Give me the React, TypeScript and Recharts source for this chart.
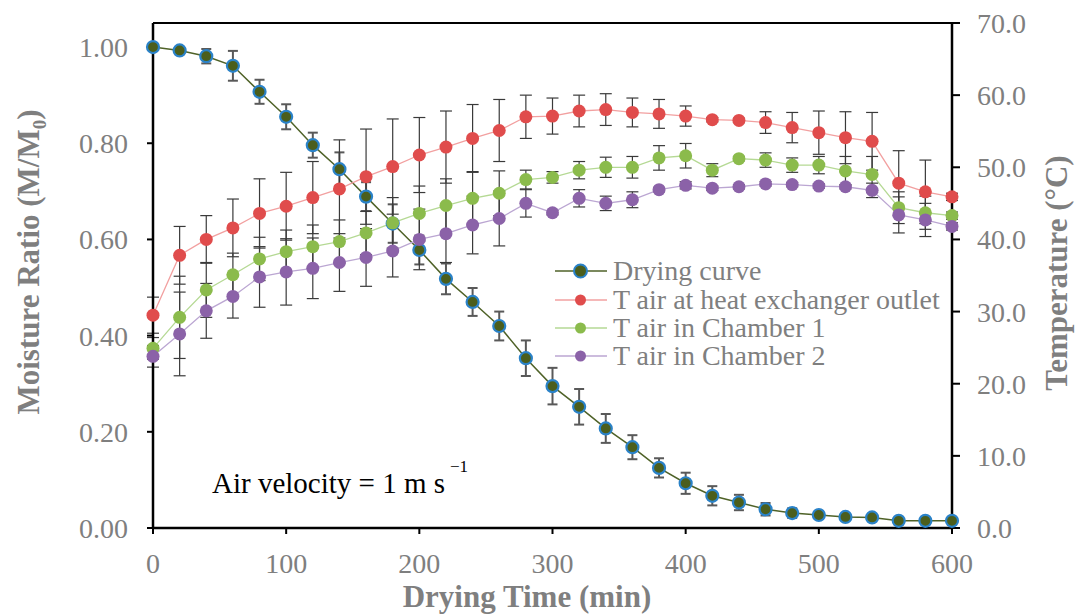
import { LineChart, Line, XAxis, YAxis, ErrorBar, ReferenceLine, Label } from 'recharts';

// drying time (min)
const times = [0, 20, 40, 60, 80, 100, 120, 140, 160, 180, 200, 220, 240, 260, 280, 300, 320, 340, 360, 380, 400, 420, 440, 460, 480, 500, 520, 540, 560, 580, 600];

// moisture ratio M/M0 and its std dev
const moistureRatio = [1.0, 0.993, 0.981, 0.961, 0.907, 0.855, 0.796, 0.746, 0.689, 0.633, 0.578, 0.518, 0.47, 0.42, 0.353, 0.295, 0.252, 0.207, 0.168, 0.125, 0.093, 0.067, 0.053, 0.039, 0.031, 0.027, 0.023, 0.022, 0.015, 0.015, 0.015];
const moistureErr = [0.003, 0.005, 0.015, 0.031, 0.025, 0.026, 0.026, 0.035, 0.03, 0.04, 0.03, 0.032, 0.029, 0.03, 0.037, 0.038, 0.037, 0.03, 0.025, 0.02, 0.022, 0.02, 0.016, 0.013, 0.01, 0.006, 0.005, 0.005, 0.004, 0.004, 0.004];

// temperatures (°C)
const tHeatExchanger = [29.5, 37.8, 40.0, 41.6, 43.6, 44.6, 45.8, 47.0, 48.7, 50.1, 51.7, 52.8, 54.0, 55.1, 57.0, 57.1, 57.8, 58.0, 57.6, 57.4, 57.1, 56.6, 56.5, 56.2, 55.5, 54.8, 54.1, 53.6, 47.8, 46.6, 45.9];
const tHeatExchangerErr = [2.5, 4, 3.3, 4, 4.8, 4.7, 5, 6.8, 6.6, 6.6, 5.2, 5, 4.7, 4.3, 3, 2.5, 2.2, 2.2, 2, 2, 1.4, 0.3, 0.3, 1.5, 2.1, 3, 3.6, 4, 4.5, 4.4, 0.5];
const tChamber1 = [24.9, 29.2, 33.0, 35.1, 37.3, 38.3, 39.0, 39.7, 40.9, 42.3, 43.6, 44.7, 45.7, 46.4, 48.3, 48.6, 49.6, 50.0, 50.0, 51.3, 51.6, 49.6, 51.2, 51.0, 50.3, 50.3, 49.5, 49.0, 44.4, 43.7, 43.3];
const tChamber1Err = [1.5, 5.7, 3.8, 3, 3, 3, 3, 3, 3, 3.5, 3.8, 3.7, 3.7, 3.1, 1.3, 0.8, 1.2, 1.4, 1.5, 1.7, 1.7, 0.9, 0.3, 1, 1, 1.2, 2, 2.5, 2.2, 2.3, 0.5];
const tChamber2 = [23.8, 26.9, 30.1, 32.1, 34.8, 35.5, 36.0, 36.8, 37.5, 38.4, 40.0, 40.8, 42.0, 42.9, 45.0, 43.7, 45.7, 45.0, 45.5, 46.9, 47.5, 47.1, 47.3, 47.7, 47.6, 47.4, 47.3, 46.8, 43.4, 42.7, 41.8];
const tChamber2Err = [1.5, 5.8, 3.8, 3, 4.2, 4.6, 4.2, 4, 4, 3.6, 4.2, 4, 4, 3.8, 1.9, 0.3, 1.2, 1, 1.1, 0.3, 0.5, 0.3, 0.3, 0.3, 0.3, 0.3, 0.3, 1, 2.5, 2.3, 0.5];

const xTicks = [0, 100, 200, 300, 400, 500, 600];
const mrTicks = [0, 0.2, 0.4, 0.6, 0.8, 1.0];
const tempTicks = [0, 10, 20, 30, 40, 50, 60, 70];

const data = times.map((t, i) => ({
  t,
  mr: moistureRatio[i],
  mrErr: moistureErr[i],
  hx: tHeatExchanger[i],
  hxErr: tHeatExchangerErr[i],
  c1: tChamber1[i],
  c1Err: tChamber1Err[i],
  c2: tChamber2[i],
  c2Err: tChamber2Err[i],
}));

const FONT = '"Liberation Serif", "Times New Roman", serif';
const GRAY = '#7f7f7f';
const tickStyle = { fill: GRAY, fontSize: 28, fontFamily: FONT };

const legendItems = [
  { name: 'Drying curve', line: '#4f6228', fill: '#4b5e1c', stroke: '#2a82c8', r: 6.5 },
  { name: 'T air at heat exchanger outlet', line: '#f2a0a0', fill: '#e04c4c', stroke: 'none', r: 5.5 },
  { name: 'T air in Chamber 1', line: '#b5d994', fill: '#8bbb4c', stroke: 'none', r: 5.5 },
  { name: 'T air in Chamber 2', line: '#bba6d2', fill: '#8b62a8', stroke: 'none', r: 5.5 },
];

export default function App() {
  return (
    <div style={{ position: 'relative', width: 1076, height: 615, background: '#fff' }}>
      <style>{'body{margin:0}'}</style>
      <LineChart width={1076} height={615} data={data} margin={{ top: 23, right: 0, left: 0, bottom: 0 }}>
        <XAxis
          type="number"
          dataKey="t"
          domain={[0, 600]}
          ticks={xTicks}
          height={87}
          tick={tickStyle}
          tickSize={6}
          tickMargin={19}
          axisLine={{ stroke: '#000', strokeWidth: 2.5 }}
          tickLine={{ stroke: '#000', strokeWidth: 2 }}
          label={
            <Label
              content={() => (
                <text x={527} y={607} textAnchor="middle" fill={GRAY} fontSize={31} fontWeight="bold" fontFamily={FONT}>
                  Drying Time (min)
                </text>
              )}
            />
          }
        />
        <YAxis
          yAxisId="mr"
          domain={[0, 1.05]}
          ticks={mrTicks}
          width={153}
          tickFormatter={(v: number) => v.toFixed(2)}
          tick={tickStyle}
          tickSize={6}
          tickMargin={19}
          axisLine={{ stroke: '#000', strokeWidth: 2.5 }}
          tickLine={{ stroke: '#000', strokeWidth: 2 }}
          label={
            <Label
              content={() => (
                <text transform="rotate(-90)" x={-262} y={39} textAnchor="middle" fill={GRAY} fontSize={31} fontWeight="bold" fontFamily={FONT}>
                  Moisture Ratio (M/M
                  <tspan fontSize={19} dy={7}>0</tspan>
                  <tspan dy={-7}>)</tspan>
                </text>
              )}
            />
          }
        />
        <YAxis
          yAxisId="temp"
          orientation="right"
          domain={[0, 70]}
          ticks={tempTicks}
          width={124}
          tickFormatter={(v: number) => v.toFixed(1)}
          tick={tickStyle}
          tickSize={8}
          tickMargin={17}
          axisLine={{ stroke: '#000', strokeWidth: 2.5 }}
          tickLine={{ stroke: '#000', strokeWidth: 2 }}
          label={
            <Label
              content={() => (
                <text transform="rotate(-90)" x={-273} y={1067} textAnchor="middle" fill={GRAY} fontSize={31} fontWeight="bold" fontFamily={FONT}>
                  Temperature (°C)
                </text>
              )}
            />
          }
        />
        <ReferenceLine yAxisId="mr" y={1.05} stroke="#000" strokeWidth={2} />

        <Line
          yAxisId="mr"
          type="linear"
          dataKey="mr"
          stroke="#4f6228"
          strokeWidth={1.5}
          dot={{ r: 6, fill: '#4b5e1c', stroke: '#2a82c8', strokeWidth: 2.2 }}
          isAnimationActive={false}
        >
          <ErrorBar dataKey="mrErr" direction="y" width={5} stroke="#595959" strokeWidth={2} />
        </Line>
        <Line
          yAxisId="temp"
          type="linear"
          dataKey="hx"
          stroke="#f2a0a0"
          strokeWidth={1.3}
          dot={{ r: 6.5, fill: '#e04c4c', stroke: 'none' }}
          isAnimationActive={false}
        >
          <ErrorBar dataKey="hxErr" direction="y" width={6} stroke="#3a3a3a" strokeWidth={1.2} />
        </Line>
        <Line
          yAxisId="temp"
          type="linear"
          dataKey="c1"
          stroke="#b5d994"
          strokeWidth={1.3}
          dot={{ r: 6.5, fill: '#8bbb4c', stroke: 'none' }}
          isAnimationActive={false}
        >
          <ErrorBar dataKey="c1Err" direction="y" width={6} stroke="#3a3a3a" strokeWidth={1.2} />
        </Line>
        <Line
          yAxisId="temp"
          type="linear"
          dataKey="c2"
          stroke="#bba6d2"
          strokeWidth={1.3}
          dot={{ r: 6.5, fill: '#8b62a8', stroke: 'none' }}
          isAnimationActive={false}
        >
          <ErrorBar dataKey="c2Err" direction="y" width={6} stroke="#3a3a3a" strokeWidth={1.2} />
        </Line>
      </LineChart>

      <div style={{ position: 'absolute', left: 555, top: 257, fontFamily: FONT, fontSize: 28, color: GRAY }}>
        {legendItems.map((it) => (
          <div key={it.name} style={{ display: 'flex', alignItems: 'center', height: 28.4, whiteSpace: 'nowrap' }}>
            <svg width={58} height={20} style={{ flex: 'none' }}>
              <line x1={0} y1={10} x2={52} y2={10} stroke={it.line} strokeWidth={1.5} />
              <circle cx={25.5} cy={10} r={it.r} fill={it.fill} stroke={it.stroke} strokeWidth={2} />
            </svg>
            <span style={{ lineHeight: '28px' }}>{it.name}</span>
          </div>
        ))}
      </div>

      <div style={{ position: 'absolute', left: 212, top: 466, fontFamily: FONT, fontSize: 29, color: '#000', whiteSpace: 'nowrap', lineHeight: '34px' }}>
        Air velocity = 1 m s
        <span style={{ position: 'relative', top: -21, fontSize: 17, marginLeft: 5 }}>−1</span>
      </div>
    </div>
  );
}
